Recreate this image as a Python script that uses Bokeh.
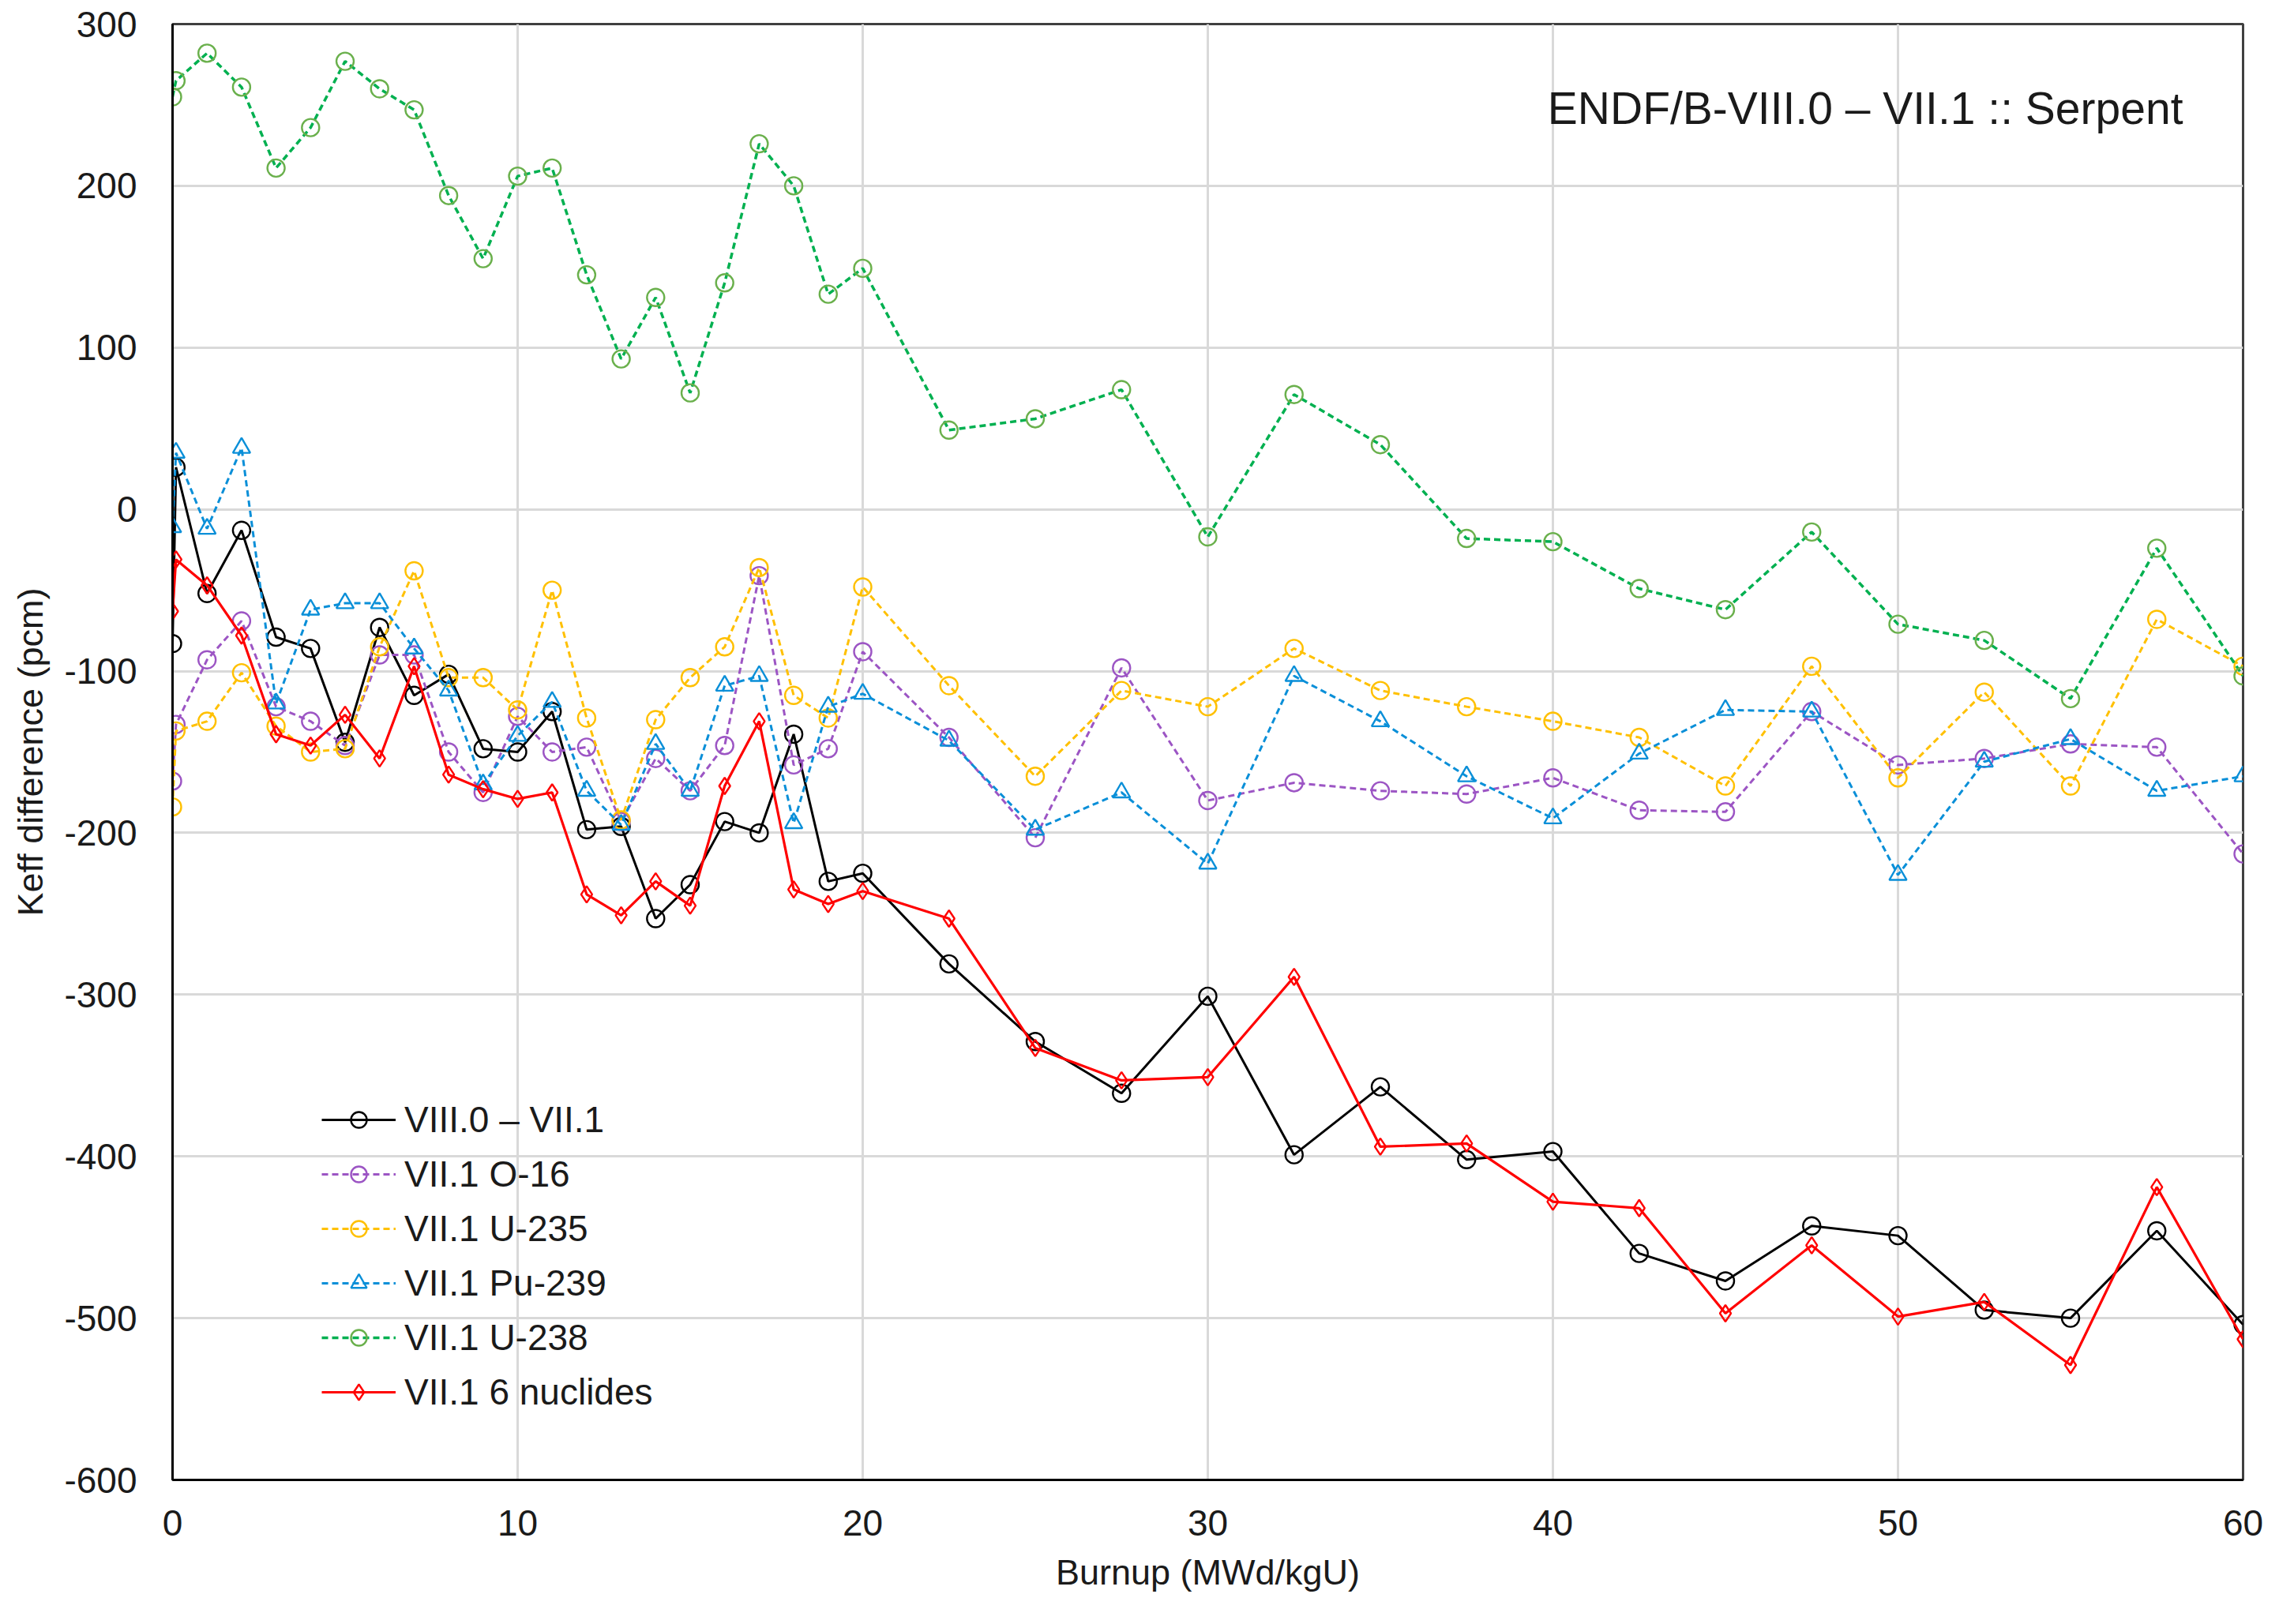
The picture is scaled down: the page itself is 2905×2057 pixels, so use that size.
from bokeh.plotting import figure
from bokeh.models import Range1d, Label, FixedTicker
from bokeh.embed import file_html
from bokeh.resources import INLINE

# ---------------- data ----------------
burnup = [0, 0.1, 1, 2, 3, 4, 5, 6, 7, 8, 9, 10, 11, 12, 13, 14, 15, 16, 17, 18, 19, 20,
          22.5, 25, 27.5, 30, 32.5, 35, 37.5, 40, 42.5, 45, 47.5, 50, 52.5, 55, 57.5, 60]

viii_minus_vii = [-83, 26, -52, -13, -79, -86, -144, -73, -115, -102, -148, -150, -125, -198, -196,
                  -253, -232, -193, -200, -139, -230, -225,
                  -281, -329, -361, -301, -399, -357, -402, -397, -460, -477, -443, -449, -495, -500, -446, -504]

o16 = [-168, -133, -93, -69, -122, -131, -146, -90, -90, -150, -175, -128, -150, -147, -193,
       -154, -174, -146, -41, -158, -148, -88,
       -141, -203, -98, -180, -169, -174, -176, -166, -186, -187, -125, -158, -154, -145, -147, -213]

u235 = [-184, -137, -131, -101, -134, -150, -148, -85, -38, -104, -104, -124, -50, -129, -192,
        -130, -104, -85, -36, -115, -129, -48,
        -109, -165, -112, -122, -86, -112, -122, -131, -141, -171, -97, -166, -113, -171, -68, -97]

pu239 = [-11, 35, -12, 38, -120, -62, -58, -58, -86, -112, -170, -140, -119, -174, -195,
         -145, -174, -109, -103, -194, -122, -114,
         -143, -198, -175, -219, -103, -131, -165, -191, -151, -124, -125, -226, -156, -142, -174, -165]

u238 = [255, 265, 282, 261, 211, 236, 277, 260, 247, 194, 155, 206, 211, 145, 93,
        131, 72, 140, 226, 200, 133, 149,
        49, 56, 74, -17, 71, 40, -18, -20, -49, -62, -14, -71, -81, -117, -24, -103]

six_nuclides = [-63, -31, -47, -78, -139, -146, -127, -154, -97, -164, -173, -179, -175, -238, -251,
                -230, -245, -171, -131, -235, -244, -236,
                -253, -333, -353, -351, -289, -394, -392, -428, -432, -497, -455, -499, -490, -529, -419, -513]

series_labels = ["VIII.0 \u2013 VII.1", "VII.1 O-16", "VII.1 U-235", "VII.1 Pu-239",
                 "VII.1 U-238", "VII.1 6 nuclides"]
x_ticks = [0, 10, 20, 30, 40, 50, 60]
y_ticks = [-600, -500, -400, -300, -200, -100, 0, 100, 200, 300]
title_text = "ENDF/B-VIII.0 \u2013 VII.1 :: Serpent"

FONT = "Liberation Sans"
TXT = "#1a1a1a"

p = figure(width=2880, height=2040,
           x_range=Range1d(0, 60), y_range=Range1d(-600, 300),
           output_backend="svg", toolbar_location=None,
           min_border_left=218, min_border_right=40,
           min_border_top=30, min_border_bottom=166)

p.background_fill_color = "white"
p.border_fill_color = "white"
p.outline_line_color = "#404040"
p.outline_line_width = 3

# grid
p.xgrid.ticker = FixedTicker(ticks=x_ticks)
p.ygrid.ticker = FixedTicker(ticks=y_ticks)
p.grid.grid_line_color = "#d9d9d9"
p.grid.grid_line_width = 3

# axes
p.xaxis.ticker = FixedTicker(ticks=x_ticks)
p.yaxis.ticker = FixedTicker(ticks=y_ticks)
p.yaxis.major_label_overrides = {t: str(t) for t in y_ticks}
p.xaxis.major_label_overrides = {t: str(t) for t in x_ticks}
p.xaxis.axis_label = "Burnup (MWd/kgU)"
p.yaxis.axis_label = "Keff difference (pcm)"
for ax in (p.xaxis, p.yaxis):
    ax.axis_label_text_font = FONT
    ax.axis_label_text_font_style = "normal"
    ax.axis_label_text_font_size = "45px"
    ax.axis_label_text_color = TXT
    ax.major_label_text_font = FONT
    ax.major_label_text_font_size = "46px"
    ax.major_label_text_color = TXT
    ax.major_tick_line_color = None
    ax.minor_tick_line_color = None
    ax.axis_line_color = "black"
    ax.axis_line_width = 3
p.xaxis.major_label_standoff = 32
p.xaxis.axis_label_standoff = 18
p.yaxis.major_label_standoff = 39
p.yaxis.axis_label_standoff = 14

styles = [
    dict(y=viii_minus_vii, color="#000000", mcolor="#000000", dash="solid", marker="circle", lw=3),
    dict(y=o16, color="#9c55c4", mcolor="#9c55c4", dash="8 5", marker="circle", lw=3),
    dict(y=u235, color="#ffc000", mcolor="#ffc000", dash="8 5", marker="circle", lw=3),
    dict(y=pu239, color="#0a8fd8", mcolor="#0a8fd8", dash="8 5", marker="triangle", lw=3),
    dict(y=u238, color="#00b050", mcolor="#6ab04c", dash="8 5", marker="circle", lw=3.5),
    dict(y=six_nuclides, color="#ff0000", mcolor="#ff0000", dash="solid", marker="diamond", lw=3.2),
]

for lab, st in zip(series_labels, styles):
    p.line(burnup, st["y"], line_color=st["color"], line_width=st["lw"],
           line_dash=st["dash"], legend_label=lab)
    size = 22 if st["marker"] != "diamond" else 21
    p.scatter(burnup, st["y"], marker=st["marker"], size=size,
              line_color=st["mcolor"], line_width=2.4, fill_color=None,
              legend_label=lab)

leg = p.legend[0]
leg.location = (189, 84)
leg.glyph_width = 94
leg.glyph_height = 50
leg.label_height = 50
leg.spacing = 15
leg.padding = 0
leg.margin = 0
leg.label_standoff = 11
leg.background_fill_alpha = 0
leg.border_line_alpha = 0
leg.label_text_font = FONT
leg.label_text_font_size = "46px"
leg.label_text_color = TXT

title = Label(x=58.26, y=248, text=title_text, text_align="right",
              text_baseline="alphabetic", text_font=FONT, text_font_size="57px",
              text_color=TXT)
p.add_layout(title)

open("out.html", "w").write(file_html(p, INLINE))
